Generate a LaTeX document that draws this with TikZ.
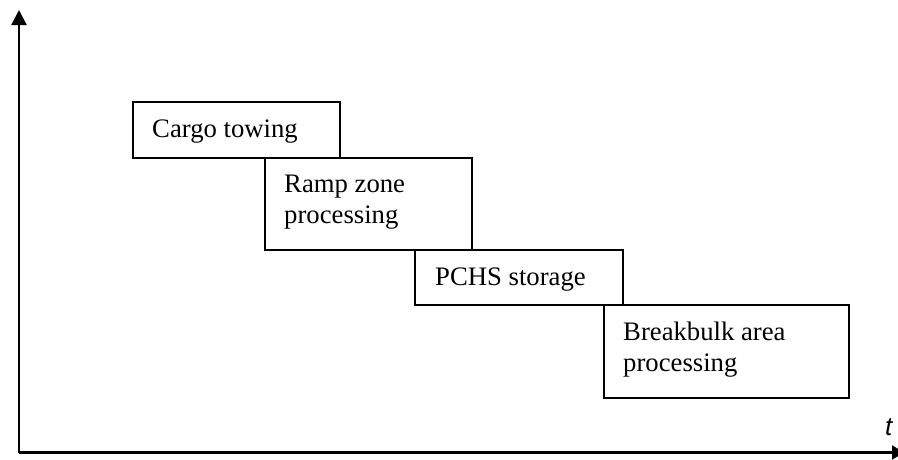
\documentclass[tikz,border=0pt]{standalone}
\usepackage{fontspec}
\setmainfont{Liberation Serif}
\newfontfamily\axisfont{Liberation Sans}
\usetikzlibrary{arrows.meta}
\tikzset{
  stagebox/.style={draw=black, line width=2.4pt, fill=white, inner sep=0pt, anchor=north west},
  stagelabel/.style={inner sep=0pt, anchor=base west, font=\fontsize{26.7}{31}\selectfont},
  axisline/.style={draw=black, line width=2.2pt},
}
\begin{document}
\begin{tikzpicture}[x=1pt, y=-1pt]
  \useasboundingbox (0,0) rectangle (898,459);
  \clip (0,0) rectangle (898,459);

  % axes
  \coordinate (origin) at (19,452.5);
  \coordinate (ytop) at (19,10);
  \coordinate (xend) at (904,452.5);
  \draw[axisline, -{Triangle[width=15pt,length=15pt]}] (origin) -- (ytop);
  \draw[axisline, -{Triangle[width=14pt,length=12pt]}] (origin) -- (xend);
  \node[inner sep=0pt, anchor=base west, font=\axisfont\itshape\fontsize{26}{30}\selectfont] (tlabel) at (885,435) {t};

  % stages
  \node[stagebox, minimum width=207pt, minimum height=56pt] (cargo) at (132,101) {};
  \node[stagebox, minimum width=207pt, minimum height=92pt] (ramp) at (264,157) {};
  \node[stagebox, minimum width=208pt, minimum height=55pt] (pchs) at (414,249) {};
  \node[stagebox, minimum width=245pt, minimum height=93pt] (bulk) at (603,304) {};

  % stage texts
  \node[stagelabel] (cargoT) at (152,137) {Cargo towing};
  \node[stagelabel] (rampT1) at (284,192) {Ramp zone};
  \node[stagelabel] (rampT2) at (284,223) {processing};
  \node[stagelabel] (pchsT) at (435,285) {PCHS storage};
  \node[stagelabel] (bulkT1) at (623,340) {Breakbulk area};
  \node[stagelabel] (bulkT2) at (623,371) {processing};
\end{tikzpicture}
\end{document}
